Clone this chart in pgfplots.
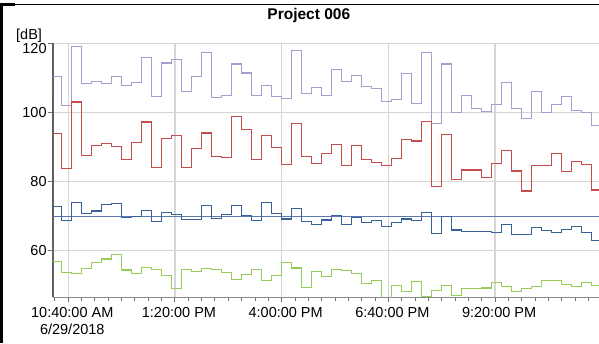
\documentclass[border=0pt]{standalone}
\usepackage{pgfplots}
\usepackage{pgfplotstable}
\pgfplotsset{compat=1.18}
\usepackage{fontspec}
\setmainfont{Liberation Sans}

\definecolor{lmax}{RGB}{172,155,206}
\definecolor{leq}{RGB}{196,78,76}
\definecolor{l50}{RGB}{58,96,152}
\definecolor{lmin}{RGB}{148,206,88}
\definecolor{limit}{RGB}{92,122,172}
\definecolor{gridgray}{RGB}{214,214,214}

% 15-minute levels, time in minutes after 10:40 AM
\pgfplotstableread{
t     p      r     b     g
-23.2 106.2  84.0  69.7  61.5
-23.2 110.4  93.8  72.7  56.9
-10   102.0  83.8  68.7  53.7
5     119.1  103.0 73.8  53.4
20    108.3  87.4  70.8  54.7
35    108.9  90.4  71.4  56.4
50    108.3  91.0  73.3  57.5
65    110.3  90.1  73.5  58.9
80    107.7  86.3  69.5  54.3
95    108.6  91.3  69.7  53.2
110   116.0  97.2  71.6  55.0
125   104.5  84.1  68.3  54.5
140   114.3  92.4  71.1  52.8
155   115.3  93.2  70.3  48.9
170   106.0  84.1  69.0  54.4
185   110.4  89.4  69.0  53.8
200   117.4  94.0  73.0  54.7
215   104.3  87.2  69.2  54.4
230   104.8  86.9  70.3  53.7
245   114.0  98.8  72.9  51.6
260   111.4  94.9  70.2  52.9
275   105.0  86.2  68.6  54.4
290   107.9  93.3  73.8  51.3
305   104.5  89.9  70.7  52.6
320   103.9  85.0  69.1  56.6
335   118.0  96.8  72.1  54.9
350   105.4  87.3  68.4  49.2
365   107.2  85.3  67.6  54.0
380   105.0  88.0  68.8  52.3
395   112.5  90.7  70.0  54.5
410   109.0  84.5  67.6  54.1
425   110.7  90.5  69.5  53.2
440   107.5  86.2  68.0  50.3
455   107.0  85.5  68.7  51.3
470   103.1  84.7  67.0  45.0
485   103.6  86.7  68.0  49.8
500   111.3  92.0  69.1  48.2
515   102.5  91.7  68.7  50.9
530   117.4  97.4  71.1  46.7
545   96.7   78.6  64.9  48.5
560   114.0  93.5  69.7  49.8
575   100.0  80.5  65.9  46.9
590   105.0  83.3  65.5  48.9
605   101.1  83.3  65.5  48.9
620   100.3  81.1  65.5  49.1
635   102.3  85.2  65.1  50.6
650   108.7  89.0  67.5  49.6
665   101.1  83.0  64.7  48.1
680   98.2   77.2  64.5  49.0
695   106.1  84.7  66.5  49.4
710   100.0  84.7  65.8  51.2
725   102.3  88.0  65.2  51.2
740   104.7  82.8  66.0  50.2
755   100.6  85.8  66.8  49.6
770   100.0  85.0  65.3  50.6
785   96.3   77.5  62.8  49.9
800   96.3   77.5  62.8  49.9
}\levels

\begin{document}
\begin{tikzpicture}[x=1pt,y=1pt]
\useasboundingbox (0,0) rectangle (599,343);
% window frame
\fill[black] (0,0) rectangle (3.3,339.5);
\fill[black] (0,337) rectangle (15,339.5);
\draw[black, line width=1pt] (0,338.5) -- (599,338.5);

\begin{axis}[
  at={(52.8pt,45.7pt)}, anchor=south west,
  scale only axis, width=546.2pt, height=254pt,
  xmin=-23.2, xmax=795.8, ymin=46.4, ymax=120,
  axis x line*=bottom, axis y line*=left,
  x axis line style={draw={rgb,255:red,135;green,135;blue,135}, line width=1.5pt},
  y axis line style={draw={rgb,255:red,95;green,95;blue,95}, line width=2pt},
  xtick={0,160,320,480,640},
  minor xtick={-20,0,...,780},
  xticklabels={{10:40:00 AM\\6/29/2018},1:20:00 PM,4:00:00 PM,6:40:00 PM,9:20:00 PM},
  ytick={60,80,100,120},
  yticklabels={60,80,100,\raisebox{-5pt}[\height][0pt]{120}},
  tick align=outside,
  major tick length=5pt, minor tick length=3.5pt,
  major tick style={draw={rgb,255:red,110;green,110;blue,110}, line width=1pt},
  minor tick style={draw={rgb,255:red,110;green,110;blue,110}, line width=1pt},
  xmajorgrids, ymajorgrids,
  grid style={draw=gridgray, line width=1.3pt},
  xticklabel style={align=center, font=\fontsize{14.5}{16.7}\selectfont, xshift=4pt, inner sep=0pt, yshift=-5pt},
  yticklabel style={font=\fontsize{14.5}{16.7}\selectfont, inner sep=0pt, xshift=-1pt},
]
\addplot[const plot, draw=lmax, line width=1.1pt] table[x=t, y=p] {\levels};
\addplot[const plot, draw=leq, line width=1.1pt] table[x=t, y=r] {\levels};
\addplot[draw=limit, line width=1.2pt] coordinates {(-23.2,69.7) (800,69.7)};
\addplot[const plot, draw=l50, line width=1.1pt] table[x=t, y=b] {\levels};
\addplot[const plot, draw=lmin, line width=1.1pt] table[x=t, y=g] {\levels};
\end{axis}

\node[anchor=base, inner sep=0pt, font=\bfseries\fontsize{15.5}{18}\selectfont] at (308.8,323) {Project 006};
\node[anchor=base west, inner sep=0pt, font=\fontsize{14.5}{16.7}\selectfont] at (16,303.7) {[dB]};
\end{tikzpicture}
\end{document}
